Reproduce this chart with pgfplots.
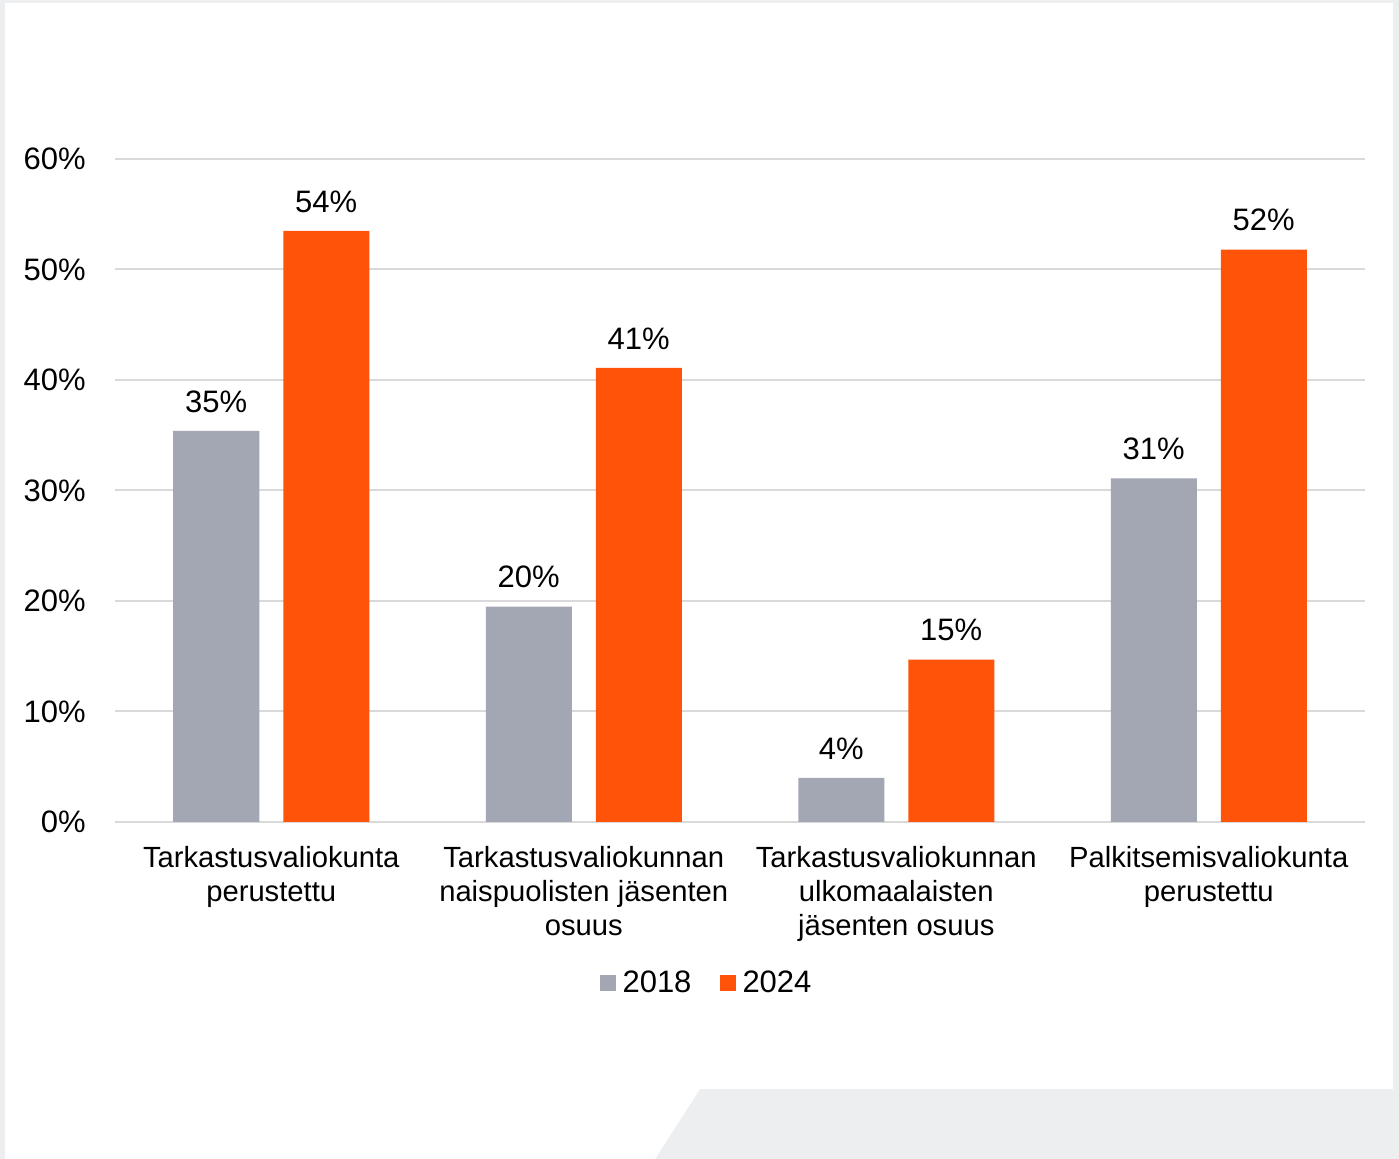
\documentclass[border=0pt]{standalone}
\usepackage{pgfplots}
\pgfplotsset{compat=1.18}
\usepackage{fontspec}
\setmainfont{Liberation Sans}
\definecolor{bggray}{HTML}{EDEEF0}
\definecolor{bargray}{HTML}{A2A7B3}
\definecolor{barorange}{HTML}{FF5309}
\definecolor{gridgray}{HTML}{D9D9D9}
\begin{document}
\begin{tikzpicture}
\useasboundingbox (0pt,0pt) rectangle (699.5pt,579.5pt);
\fill[bggray] (0pt,0pt) rectangle (699.5pt,579.5pt);
\fill[white] (2.5pt,0pt) -- (2.5pt,578pt) -- (696.5pt,578pt) -- (696.5pt,35pt) -- (350pt,35pt) -- (327.5pt,0pt) -- cycle;
\begin{axis}[
  at={(57.5pt,168.5pt)}, anchor=south west,
  scale only axis, width=625pt, height=331.5pt,
  xmin=-0.5, xmax=3.5, ymin=0, ymax=60,
  axis x line*=bottom, axis y line*=left,
  x axis line style={draw=gridgray, line width=1pt, -},
  y axis line style={draw=none},
  ymajorgrids, grid style={draw=gridgray, line width=1pt},
  ytick={0,10,20,30,40,50,60},
  yticklabels={0\%,10\%,20\%,30\%,40\%,50\%,60\%},
  xtick={0,1,2,3},
  xticklabels={Tarkastusvaliokunta\\perustettu, Tarkastusvaliokunnan\\naispuolisten jäsenten\\osuus, Tarkastusvaliokunnan\\ulkomaalaisten\\jäsenten osuus, Palkitsemisvaliokunta\\perustettu},
  major tick length=0pt,
  xticklabel style={align=center, font=\fontsize{14.6pt}{17pt}\selectfont, inner sep=0pt, yshift=-12pt},
  yticklabel style={font=\fontsize{15.5pt}{18pt}\selectfont, inner sep=0pt, xshift=-14.5pt},
  ybar, bar width=43pt,
  point meta=explicit symbolic,
  nodes near coords,
  every node near coord/.append style={font=\fontsize{15.5pt}{18pt}\selectfont, inner sep=0pt, anchor=south, yshift=9pt, text=black},
  legend style={at={(0.474,-0.243)}, anchor=center, draw=none, fill=none,
    font=\fontsize{15.5pt}{18pt}\selectfont, inner sep=0pt,
    /tikz/every odd column/.append style={column sep=0pt},
    /tikz/every even column/.append style={column sep=12pt}},
  legend columns=2,
  legend image code/.code={\fill[#1] (0pt,-4pt) rectangle (8pt,4pt);},
  legend cell align=left,
  clip=false,
]
\addplot[draw=none, fill=bargray, bar shift=-27.5pt] coordinates {(0,35.4) [35\%] (1,19.5) [20\%] (2,4.0) [4\%] (3,31.1) [31\%]};
\addplot[draw=none, fill=barorange, bar shift=27.5pt] coordinates {(0,53.5) [54\%] (1,41.1) [41\%] (2,14.7) [15\%] (3,51.8) [52\%]};
\legend{\hspace{1.5pt}2018,\hspace{1.5pt}2024}
\end{axis}
\end{tikzpicture}
\end{document}
